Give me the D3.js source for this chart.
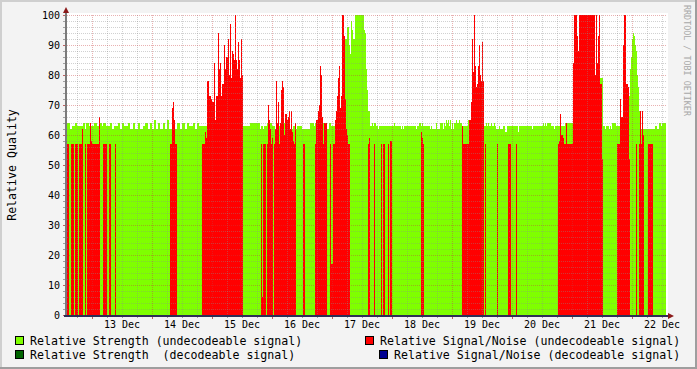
<!DOCTYPE html>
<html>
<head>
<meta charset="utf-8">
<script src="https://cdn.jsdelivr.net/npm/d3@7"></script>
<style>
  body { margin: 0; background: #f3f3f3; }
  svg { display: block; }
  text { font-family: "DejaVu Sans Mono", monospace; }
</style>
</head>
<body>
<div id="chart"></div>
<script>
// Sample grid: one sample per 24 minutes, starting 12 Dec 14:00 (UTC)
var t0 = Date.UTC(2007, 11, 12, 14, 0);
var stepMs = 24 * 60 * 1000;
var nSamples = 600;

// Step data as [sample index, value] runs; a value holds until the next run
// Relative Strength (undecodeable signal)
var strengthRuns = [
  [0,64],[3,62],[5,63],[8,64],[10,63],[16,64],[18,62],[19,64],[22,63],[27,64],[30,63],[33,64],
  [35,63],[36,64],[39,63],[43,64],[45,62],[47,63],[51,64],[53,62],[55,64],[57,63],[61,64],[63,62],
  [66,64],[68,62],[71,64],[73,62],[76,63],[78,64],[81,62],[83,64],[85,62],[87,65],[89,62],[91,64],
  [93,62],[96,64],[98,62],[100,65],[102,62],[105,64],[108,62],[110,64],[113,62],[115,64],[118,62],
  [120,64],[122,63],[126,64],[128,62],[130,64],[132,63],[183,64],[193,62],[194,63],[196,62],[197,63],
  [200,64],[205,63],[208,62],[211,63],[214,64],[218,63],[223,62],[226,63],[229,62],[230,63],[235,62],
  [243,64],[247,63],[248,64],[260,62],[262,64],[264,63],[268,64],[273,63],[277,93],[278,92],[280,96],
  [282,90],[283,87],[284,98],[285,95],[286,92],[288,100],[297,95],[298,94],[299,82],[300,75],[301,68],
  [303,63],[305,64],[306,63],[307,64],[309,63],[311,62],[312,63],[327,64],[328,63],[334,62],[335,63],
  [336,62],[337,63],[349,62],[350,63],[352,64],[354,63],[355,64],[356,63],[363,62],[364,63],[365,62],
  [369,64],[370,62],[373,64],[376,62],[377,64],[378,63],[379,65],[380,64],[381,65],[382,63],[383,65],
  [384,62],[385,64],[386,62],[387,64],[389,65],[390,64],[392,65],[393,64],[395,63],[401,65],[403,63],
  [419,64],[420,63],[421,64],[422,63],[424,64],[425,63],[427,64],[428,63],[429,62],[432,63],[433,62],
  [436,63],[438,61],[440,63],[451,61],[452,63],[465,62],[466,63],[476,64],[477,63],[478,64],[479,63],
  [480,64],[484,63],[487,62],[488,63],[498,64],[506,63],[533,79],[536,63],[538,62],[539,63],[542,62],
  [543,63],[544,62],[545,64],[549,63],[562,73],[563,82],[564,86],[565,92],[566,94],[567,93],[568,90],
  [569,88],[570,80],[571,76],[572,68],[573,64],[574,62],[588,63],[590,62],[592,64],[594,63],[595,64],
  [599,null]
];

// Relative Signal/Noise (undecodeable signal)
var snrRuns = [
  [0,57],[2,null],[4,57],[7,null],[8,57],[11,null],[12,57],[15,62],[16,null],[18,57],[19,null],
  [20,57],[23,64],[24,58],[25,57],[32,66],[33,null],[36,57],[40,null],[42,57],[44,null],[48,57],
  [49,null],[103,57],[105,69],[106,71],[107,65],[108,57],[110,null],
  [135,57],[138,61],[139,59],[140,78],[142,73],[144,72],[145,71],[147,84],[148,65],[149,73],[151,94],
  [152,82],[153,84],[154,73],[155,77],[157,90],[158,82],[159,86],[161,92],[162,80],[163,97],[164,79],
  [165,88],[166,87],[167,85],[168,100],[169,85],[170,82],[171,91],[172,85],[173,79],[174,92],[175,80],
  [176,null],
  [194,57],[195,6],[196,57],[199,null],[200,57],[201,70],[202,65],[203,62],[204,57],[205,59],[206,null],
  [207,57],[208,62],[209,78],[210,64],[211,71],[212,57],[213,64],[214,75],[215,78],[216,76],[217,60],
  [218,67],[220,65],[221,66],[222,68],[223,62],[224,68],[225,61],[226,58],[227,57],[228,64],[229,null],
  [236,57],[238,null],[248,57],[249,65],[251,68],[252,70],[253,83],[254,80],[255,66],[256,57],[257,64],
  [260,null],[263,57],[264,17],[266,57],[268,65],[269,68],[270,73],[271,79],[272,83],[273,69],[274,73],
  [275,100],[277,93],[278,72],[279,62],[280,60],[281,57],[283,null],
  [301,57],[302,59],[303,null],[307,57],[308,null],[314,57],[315,null],[316,57],[318,null],[321,57],
  [322,null],[323,58],[325,null],[354,61],[355,59],[356,57],[357,null],
  [395,63],[396,57],[402,65],[404,71],[405,92],[406,81],[407,100],[408,83],[409,76],[410,77],[411,83],
  [412,90],[413,80],[414,78],[415,91],[416,78],[417,null],[418,57],[419,null],[430,57],[431,null],
  [441,57],[444,null],[449,57],[450,null],
  [491,57],[492,58],[493,67],[494,60],[496,59],[497,57],[499,64],[500,57],[506,84],[507,100],[510,93],
  [511,88],[512,100],[528,80],[529,100],[530,84],[531,93],[532,100],[533,77],[535,52],[536,null],
  [550,57],[553,72],[554,66],[556,90],[557,100],[559,77],[561,76],[562,52],[563,null],[569,57],
  [570,null],[572,57],[573,68],[574,57],[575,68],[576,60],[577,null],[581,57],[586,null]
];

// Decodeable series: no samples in this period
var strengthDecRuns = [];
var snrDecRuns = [];

var yTickValues = [0, 10, 20, 30, 40, 50, 60, 70, 80, 90, 100];

var legendItems = [
  {label: "Relative Strength (undecodeable signal)", color: "#7fff00", col: 0, row: 0},
  {label: "Relative Signal/Noise (undecodeable signal)", color: "#ff0000", col: 1, row: 0},
  {label: "Relative Strength  (decodeable signal)", color: "#006400", col: 0, row: 1},
  {label: "Relative Signal/Noise (decodeable signal)", color: "#000090", col: 2, row: 1}
];

// Layout
var W = 697, H = 369;
var plot = {left: 67, right: 667, top: 15, bottom: 315};

var svg = d3.select("#chart")
  .append("svg")
    .attr("width", W)
    .attr("height", H);

// Frame with rrdtool-like shading
svg.append("rect").attr("width", W).attr("height", H).attr("fill", "#f3f3f3");
svg.append("path").attr("d", "M0,0H697V2H2V369H0Z").attr("fill", "#cfcfcf");
svg.append("path").attr("d", "M697,0V369H0V367H695V0Z").attr("fill", "#9e9e9e");

var x = d3.scaleUtc()
  .domain([t0, t0 + nSamples * stepMs])
  .range([plot.left, plot.right]);
var y = d3.scaleLinear()
  .domain([0, 100])
  .range([plot.bottom, plot.top]);

// Canvas
svg.append("rect")
  .attr("x", plot.left).attr("y", plot.top - 2)
  .attr("width", plot.right - plot.left + 1).attr("height", plot.bottom - plot.top + 2)
  .attr("fill", "#ffffff");

// Draw one series as step bars, one rect per run
function drawRuns(runs, color) {
  var segs = runs.map(function(r, i) {
    var end = i + 1 < runs.length ? runs[i + 1][0] : nSamples;
    return {start: r[0], end: end, v: r[1]};
  }).filter(function(d) { return d.v !== null; });

  svg.append("g")
    .attr("shape-rendering", "crispEdges")
    .selectAll("rect")
    .data(segs)
    .enter()
    .append("rect")
      .attr("x", function(d) { return x(t0 + d.start * stepMs); })
      .attr("width", function(d) { return x(t0 + d.end * stepMs) - x(t0 + d.start * stepMs); })
      .attr("y", function(d) { return y(d.v); })
      .attr("height", function(d) { return y(0) - y(d.v); })
      .attr("fill", color);
}

drawRuns(strengthRuns, "#7fff00");
drawRuns(strengthDecRuns, "#006400");
drawRuns(snrRuns, "#ff0000");
drawRuns(snrDecRuns, "#000090");

// Grid (drawn over the data, dotted)
var grid = svg.append("g").attr("shape-rendering", "crispEdges");
var minorColor = "rgba(140,140,140,0.4)";
var majorColor = "rgba(200,60,60,0.4)";

var xDomain = x.domain();
var sixHours = d3.utcHour.every(6).range(xDomain[0], xDomain[1]);
var days = d3.utcDay.range(xDomain[0], xDomain[1]);

grid.selectAll(".xminor")
  .data(sixHours.filter(function(d) { return d.getUTCHours() !== 0; }))
  .enter().append("line")
    .attr("x1", function(d) { return Math.round(x(d)) + 0.5; })
    .attr("x2", function(d) { return Math.round(x(d)) + 0.5; })
    .attr("y1", plot.top).attr("y2", plot.bottom)
    .attr("stroke", minorColor).attr("stroke-dasharray", "1,1");

grid.selectAll(".ymajor")
  .data(d3.range(0, 101, 2))
  .enter().append("line")
    .attr("x1", plot.left).attr("x2", plot.right)
    .attr("y1", function(d) { return y(d) + 0.5; })
    .attr("y2", function(d) { return y(d) + 0.5; })
    .attr("stroke", function(d) { return d % 10 === 0 ? majorColor : minorColor; })
    .attr("stroke-dasharray", "1,1");

grid.selectAll(".xmajor")
  .data(days)
  .enter().append("line")
    .attr("x1", function(d) { return Math.round(x(d)) + 0.5; })
    .attr("x2", function(d) { return Math.round(x(d)) + 0.5; })
    .attr("y1", plot.top).attr("y2", plot.bottom)
    .attr("stroke", majorColor).attr("stroke-dasharray", "1,1");

// Tick marks outside the axes
grid.selectAll(".ytick")
  .data(d3.range(0, 101, 2))
  .enter().append("line")
    .attr("x1", plot.left - 4).attr("x2", plot.left - 1)
    .attr("y1", function(d) { return y(d) + 0.5; })
    .attr("y2", function(d) { return y(d) + 0.5; })
    .attr("stroke", function(d) { return d % 10 === 0 ? "#c06060" : "#a0a0a0"; });

grid.selectAll(".xtick")
  .data(sixHours)
  .enter().append("line")
    .attr("x1", function(d) { return Math.round(x(d)) + 0.5; })
    .attr("x2", function(d) { return Math.round(x(d)) + 0.5; })
    .attr("y1", plot.bottom + 1)
    .attr("y2", function(d) { return d.getUTCHours() === 0 ? plot.bottom + 4 : plot.bottom + 3; })
    .attr("stroke", function(d) { return d.getUTCHours() === 0 ? "#c06060" : "#a0a0a0"; });

// Axis lines and arrows
svg.append("line")
  .attr("x1", plot.left - 1).attr("x2", plot.left - 1)
  .attr("y1", plot.top - 6).attr("y2", plot.bottom + 2)
  .attr("stroke", "#7a7a7a").attr("stroke-width", 2);
svg.append("line")
  .attr("x1", plot.left - 3).attr("x2", plot.right + 3)
  .attr("y1", plot.bottom + 1).attr("y2", plot.bottom + 1)
  .attr("stroke", "#2e2e55").attr("stroke-width", 2);
svg.append("path")
  .attr("d", "M" + (plot.left - 4) + "," + (plot.top - 2) + "L" + (plot.left - 1) + "," + (plot.top - 8) +
             "L" + (plot.left + 2) + "," + (plot.top - 2) + "Z")
  .attr("fill", "#8b1a1a");
svg.append("path")
  .attr("d", "M" + (plot.right + 1) + "," + (plot.bottom - 2) + "L" + (plot.right + 7) + "," + (plot.bottom + 1) +
             "L" + (plot.right + 1) + "," + (plot.bottom + 4) + "Z")
  .attr("fill", "#8b1a1a");

// Y labels
svg.append("g").selectAll("text")
  .data(yTickValues)
  .enter().append("text")
    .attr("x", 60)
    .attr("y", function(d) { return y(d) + 4; })
    .attr("text-anchor", "end")
    .attr("font-size", "10px")
    .attr("fill", "#000")
    .text(function(d) { return d; });

// X labels, centred at noon of each day
var fmt = d3.utcFormat("%d %b");
svg.append("g").selectAll("text")
  .data(days.map(function(d) { return d3.utcHour.offset(d, 12); })
            .filter(function(d) { return d < xDomain[1]; }))
  .enter().append("text")
    .attr("x", function(d) { return x(d); })
    .attr("y", 328)
    .attr("text-anchor", "middle")
    .attr("font-size", "10px")
    .attr("fill", "#000")
    .text(function(d) { return fmt(d); });

// Vertical title
svg.append("text")
  .attr("transform", "translate(16,165) rotate(-90)")
  .attr("text-anchor", "middle")
  .attr("font-size", "11.6px")
  .attr("fill", "#000")
  .text("Relative Quality");

// Watermark
svg.append("text")
  .attr("transform", "translate(684,5) rotate(90)")
  .attr("font-size", "8.4px")
  .attr("fill", "#a8a8a8")
  .text("RRDTOOL / TOBI OETIKER");

// Legend
var colX = [15, 365, 379];
var rowY = [336, 350];
var leg = svg.append("g").selectAll("g")
  .data(legendItems)
  .enter().append("g")
    .attr("transform", function(d) { return "translate(" + colX[d.col] + "," + rowY[d.row] + ")"; });
leg.append("rect")
  .attr("x", 0.5).attr("y", 0.5).attr("width", 8).attr("height", 8)
  .attr("fill", function(d) { return d.color; })
  .attr("stroke", "#000");
leg.append("text")
  .attr("x", 15).attr("y", 9)
  .attr("font-size", "11.6px")
  .attr("fill", "#000")
  .attr("xml:space", "preserve")
  .style("white-space", "pre")
  .text(function(d) { return d.label; });
</script>
</body>
</html>
